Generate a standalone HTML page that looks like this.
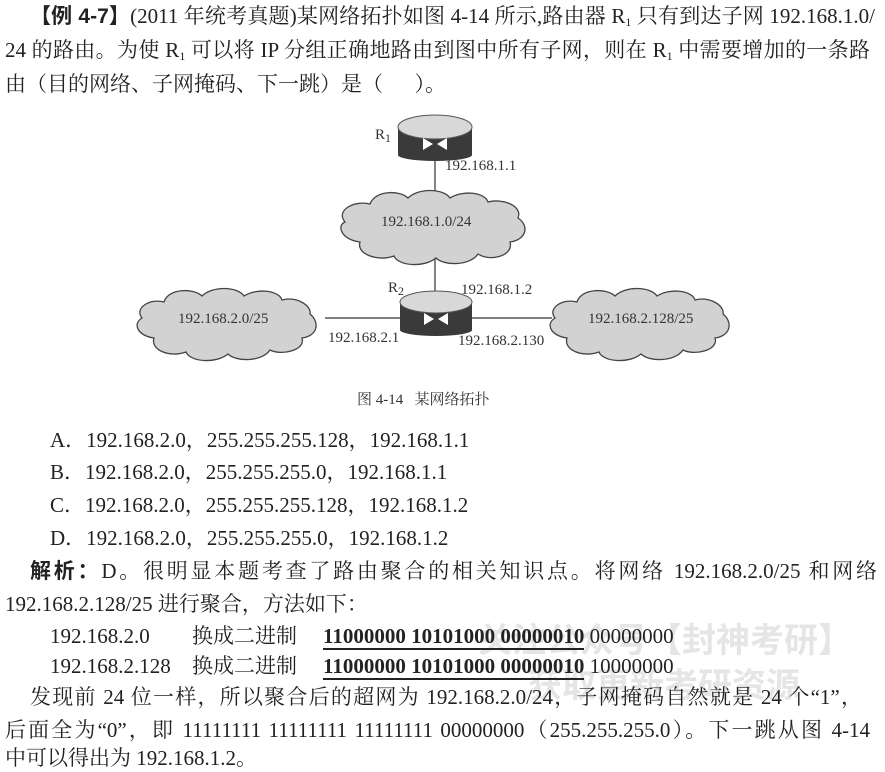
<!DOCTYPE html>
<html><head><meta charset="utf-8"><style>
body{margin:0;width:885px;height:772px;background:#fff;overflow:hidden;position:relative;font-family:"Liberation Serif","Noto Serif CJK SC",serif;color:#222}
.l{position:absolute;white-space:nowrap;font-size:21px;line-height:24px}
.j{text-align:justify;text-align-last:justify;white-space:normal}
.s{font-family:"Liberation Sans","Noto Sans CJK SC",sans-serif}
sub{font-size:12px;vertical-align:-3px;line-height:0}
.u{font-weight:bold;border-bottom:2px solid #222}
.d{position:absolute;font-size:15px;white-space:nowrap;color:#333}
.wm{position:absolute;font-family:"Noto Sans CJK SC",sans-serif;font-weight:bold;color:rgba(150,150,150,0.25);font-size:34px;white-space:nowrap}
</style></head><body>
<div class="l j" style="left:30px;top:4px;width:845px"><b class="s">【例 4-7】</b>(2011 年统考真题)某网络拓扑如图 4-14 所示,路由器 R<sub>1</sub> 只有到达子网 192.168.1.0/</div>
<div class="l j" style="left:5px;top:38px;width:865px">24 的路由。为使 R<sub>1</sub> 可以将 IP 分组正确地路由到图中所有子网，则在 R<sub>1</sub> 中需要增加的一条路</div>
<div class="l" style="left:5px;top:72px">由（目的网络、子网掩码、下一跳）是（&nbsp;&nbsp;&nbsp;&nbsp;&nbsp;&nbsp;）。</div>

<svg style="position:absolute;left:0;top:0" width="885" height="420">
<g stroke="#333" stroke-width="1.2">
<line x1="435" y1="155" x2="435" y2="195"/><line x1="435" y1="258" x2="435" y2="295"/>
<line x1="325" y1="318" x2="400" y2="318"/><line x1="472" y1="318" x2="552" y2="318"/>
</g>
<g fill="#d2d2d2" stroke="#444" stroke-width="1.3">
<path d="M345,222 c-10,-12 10,-22 25,-18 c5,-14 30,-14 38,-6 c10,-10 35,-10 42,0 c12,-8 35,-6 38,4 c15,-4 35,4 30,16 c12,8 8,22 -8,24 c4,14 -20,20 -32,12 c-8,12 -34,12 -42,4 c-12,10 -38,8 -42,-2 c-16,6 -38,-2 -34,-14 c-18,-2 -24,-16 -15,-20 z"/>
<path d="M142,318 c-8,-10 8,-20 22,-16 c4,-14 30,-14 38,-6 c10,-10 35,-10 42,0 c12,-8 35,-6 38,4 c15,-4 30,6 28,14 c10,8 8,22 -8,24 c4,12 -20,18 -32,12 c-8,12 -34,12 -42,4 c-12,10 -38,8 -42,-2 c-16,6 -36,-2 -32,-14 c-16,-2 -22,-14 -12,-20 z"/>
<path d="M555,318 c-8,-10 8,-20 22,-16 c4,-14 30,-14 38,-6 c10,-10 35,-10 42,0 c12,-8 35,-6 38,4 c15,-4 30,6 28,14 c10,8 8,22 -8,24 c4,12 -20,18 -32,12 c-8,12 -34,12 -42,4 c-12,10 -38,8 -42,-2 c-16,6 -36,-2 -32,-14 c-16,-2 -22,-14 -12,-20 z"/>
</g>
<g>
<rect x="398" y="127" width="74" height="28" fill="#3a3a3a"/><ellipse cx="435" cy="155" rx="37" ry="6" fill="#3a3a3a"/><ellipse cx="435" cy="127" rx="37" ry="12" fill="#d8d8d8" stroke="#555"/>
<path d="M423,138 l10,6 l-10,6z M447,138 l-10,6 l10,6z" fill="#fff"/>
<rect x="400" y="302" width="72" height="28" fill="#3a3a3a"/><ellipse cx="436" cy="330" rx="36" ry="6" fill="#3a3a3a"/><ellipse cx="436" cy="302" rx="36" ry="11" fill="#d8d8d8" stroke="#555"/>
<path d="M424,313 l10,6 l-10,6z M448,313 l-10,6 l10,6z" fill="#fff"/>
</g>
</svg>
<div class="d" style="left:375px;top:127px">R<sub>1</sub></div>
<div class="d" style="left:445px;top:158px">192.168.1.1</div>
<div class="d" style="left:381px;top:214px">192.168.1.0/24</div>
<div class="d" style="left:388px;top:280px">R<sub>2</sub></div>
<div class="d" style="left:461px;top:282px">192.168.1.2</div>
<div class="d" style="left:178px;top:311px">192.168.2.0/25</div>
<div class="d" style="left:328px;top:330px">192.168.2.1</div>
<div class="d" style="left:458px;top:333px">192.168.2.130</div>
<div class="d" style="left:588px;top:311px">192.168.2.128/25</div>
<div class="d" style="left:357px;top:388px;font-size:15px">图 4-14&nbsp;&nbsp;&nbsp;某网络拓扑</div>

<div class="l" style="left:50px;top:428px">A．192.168.2.0，255.255.255.128，192.168.1.1</div>
<div class="l" style="left:50px;top:460px">B．192.168.2.0，255.255.255.0，192.168.1.1</div>
<div class="l" style="left:50px;top:493px">C．192.168.2.0，255.255.255.128，192.168.1.2</div>
<div class="l" style="left:50px;top:526px">D．192.168.2.0，255.255.255.0，192.168.1.2</div>
<div class="l j" style="left:30px;top:559px;width:847px"><b class="s">解析：</b>D。很明显本题考查了路由聚合的相关知识点。将网络 192.168.2.0/25 和网络</div>
<div class="l" style="left:5px;top:592px">192.168.2.128/25 进行聚合，方法如下：</div>
<div class="wm" style="left:478px;top:613px">关注公众号【封神考研】</div>
<div class="wm" style="left:528px;top:658px">获取更新考研资源</div>
<div class="l" style="left:50px;top:624px">192.168.2.0</div>
<div class="l" style="left:192px;top:624px">换成二进制</div>
<div class="l" style="left:323px;top:624px"><span class="u">11000000 10101000 00000010</span> 00000000</div>
<div class="l" style="left:50px;top:654px">192.168.2.128</div>
<div class="l" style="left:192px;top:654px">换成二进制</div>
<div class="l" style="left:323px;top:654px"><span class="u">11000000 10101000 00000010</span> 10000000</div>
<div class="l j" style="left:30px;top:685px;width:832px">发现前 24 位一样，所以聚合后的超网为 192.168.2.0/24，子网掩码自然就是 24 个“1”，</div>
<div class="l j" style="left:5px;top:718px;width:865px">后面全为“0”，即 11111111 11111111 11111111 00000000（255.255.255.0）。下一跳从图 4-14</div>
<div class="l" style="left:5px;top:746px">中可以得出为 192.168.1.2。</div>
</body></html>
